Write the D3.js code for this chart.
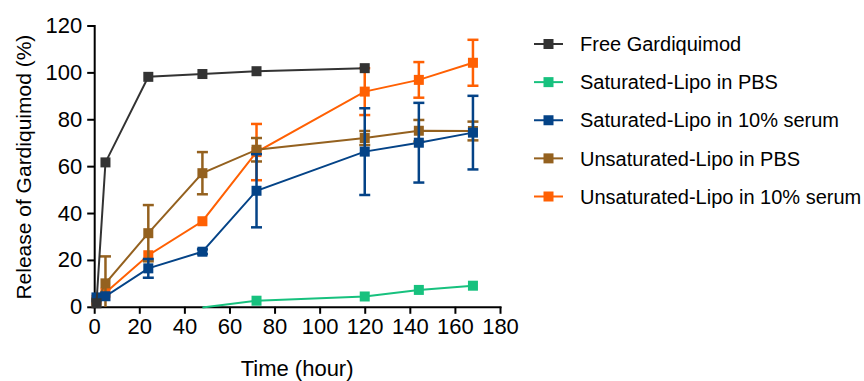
<!DOCTYPE html>
<html>
<head>
<meta charset="utf-8">
<script src="https://cdn.jsdelivr.net/npm/d3@7"></script>
<style>
  body { margin: 0; background: #fff; }
  svg { display: block; font-family: "Liberation Sans", Arial, sans-serif; }
  .axis path, .axis line { stroke: #000; stroke-width: 2px; }
</style>
</head>
<body>
<svg width="864" height="381"></svg>
<script>
// series data (time in hours, release in %)
const seriesNames = ["Free Gardiquimod", "Saturated-Lipo in PBS", "Saturated-Lipo in 10% serum",
                     "Unsaturated-Lipo in PBS", "Unsaturated-Lipo in 10% serum"];
const seriesColors = ["#333333", "#17C17E", "#044387", "#94611F", "#FF6003"];

const timesFree = [1, 5, 24, 48, 72, 120];
const freeVals = [1.5, 61.6, 98.1, 99.3, 100.5, 101.8];

const timesSatPbs = [48, 72, 120, 144, 168];
const satPbsVals = [-0.3, 2.6, 4.4, 7.2, 9.0];

const timesLipo = [1, 5, 24, 48, 72, 120, 144, 168];
const satSerumVals = [4, 4.5, 16.4, 23.5, 49.5, 66.2, 70.0, 74.3];
const satSerumErr  = [0, 0, 4, 1, 15.6, 18.5, 17, 15.7];
const unsatPbsVals = [2, 10, 31.4, 57, 67, 72, 75.1, 75];
const unsatPbsErr  = [0, 11.5, 12, 9, 5, 3, 4.6, 4];
const unsatSerumVals = [3, 6, 22, 36.5, 66, 91.8, 96.8, 104.1];
const unsatSerumErr  = [0, 0, 0, 0, 12, 10, 7.6, 9.8];

const xTicks = [0, 20, 40, 60, 80, 100, 120, 140, 160, 180];
const yTicks = [0, 20, 40, 60, 80, 100, 120];

function zipSeries(ts, vs, es) {
  return ts.map((t, i) => ({ t: t, v: vs[i], e: es ? es[i] : 0 }));
}

const series = [
  zipSeries(timesFree, freeVals),
  zipSeries(timesSatPbs, satPbsVals),
  zipSeries(timesLipo, satSerumVals, satSerumErr),
  zipSeries(timesLipo, unsatPbsVals, unsatPbsErr),
  zipSeries(timesLipo, unsatSerumVals, unsatSerumErr)
];

const svg = d3.select("svg");

const x = d3.scaleLinear().domain([0, 180]).range([94.2, 500]);
const y = d3.scaleLinear().domain([0, 120]).range([306.8, 25.5]);

// axes
const xAxis = svg.append("g")
   .attr("class", "axis")
   .attr("transform", `translate(0,${y(0)})`)
   .call(d3.axisBottom(x).tickValues(xTicks).tickSize(7).tickSizeOuter(0).tickPadding(5));

const yAxis = svg.append("g")
   .attr("class", "axis")
   .attr("transform", `translate(${x(0)},0)`)
   .call(d3.axisLeft(y).tickValues(yTicks).tickSize(7).tickSizeOuter(0).tickPadding(5));

svg.selectAll(".axis")
   .attr("font-family", "'Liberation Sans', Arial, sans-serif")
   .attr("font-size", 22);
svg.selectAll(".axis text").attr("fill", "#000");
svg.selectAll(".axis .domain").attr("stroke-linecap", "square");

// axis titles
svg.append("text")
   .attr("x", x(90)).attr("y", 376)
   .attr("text-anchor", "middle")
   .style("font-size", "22px")
   .text("Time (hour)");

svg.append("text")
   .attr("transform", `translate(31,${y(60) + 1}) rotate(-90)`)
   .attr("text-anchor", "middle")
   .style("font-size", "21px")
   .text("Release of Gardiquimod (%)");

// draw series, last legend entry at the bottom so black ends on top
const line = d3.line().x(d => x(d.t)).y(d => y(d.v));
const ms = 10;

d3.range(series.length).reverse().forEach(i => {
  const g = svg.append("g");
  const col = seriesColors[i];
  const data = series[i];

  // error bars
  const eb = g.selectAll(".err").data(data.filter(d => d.e > 0)).enter().append("g");
  eb.append("line")
    .attr("x1", d => x(d.t)).attr("x2", d => x(d.t))
    .attr("y1", d => y(Math.max(0, d.v - d.e))).attr("y2", d => y(d.v + d.e))
    .attr("stroke", col).attr("stroke-width", 2.5);
  eb.append("line")
    .attr("x1", d => x(d.t) - 5.5).attr("x2", d => x(d.t) + 5.5)
    .attr("y1", d => y(d.v + d.e)).attr("y2", d => y(d.v + d.e))
    .attr("stroke", col).attr("stroke-width", 2.5);
  eb.filter(d => d.v - d.e > 0).append("line")
    .attr("x1", d => x(d.t) - 5.5).attr("x2", d => x(d.t) + 5.5)
    .attr("y1", d => y(d.v - d.e)).attr("y2", d => y(d.v - d.e))
    .attr("stroke", col).attr("stroke-width", 2.5);

  g.append("path")
   .datum(data)
   .attr("d", line)
   .attr("fill", "none")
   .attr("stroke", col)
   .attr("stroke-width", 2);

  g.selectAll("rect").data(data.filter(d => d.v >= 0)).enter().append("rect")
   .attr("x", d => x(d.t) - ms / 2)
   .attr("y", d => y(d.v) - ms / 2)
   .attr("width", ms).attr("height", ms)
   .attr("fill", col);
});

// legend
const legend = svg.append("g");
const rowY = d3.scaleLinear().domain([0, 4]).range([44, 196.5]);
seriesNames.forEach((name, i) => {
  const row = legend.append("g").attr("transform", `translate(0,${rowY(i)})`);
  row.append("line")
     .attr("x1", 534).attr("x2", 563)
     .attr("stroke", seriesColors[i]).attr("stroke-width", 2);
  row.append("rect")
     .attr("x", 543.5).attr("y", -5).attr("width", 10).attr("height", 10)
     .attr("fill", seriesColors[i]);
  row.append("text")
     .attr("x", 580).attr("y", 0).attr("dy", "0.36em")
     .style("font-size", "20px")
     .text(name);
});
</script>
</body>
</html>
